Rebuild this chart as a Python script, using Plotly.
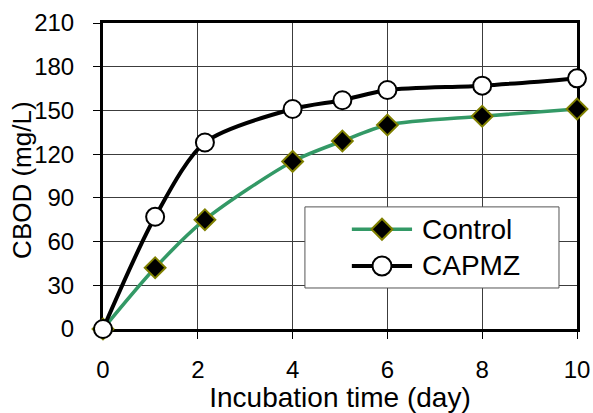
import plotly.graph_objects as go

# Sampling days and CBOD readings (mg/L)
days = [0, 1.1, 2.15, 4, 5.05, 6, 8, 10]
control = [0, 42, 75, 115, 129, 140, 146, 151]
capmz = [0, 77, 128, 151, 157, 164, 167, 172]

x_ticks = [0, 2, 4, 6, 8, 10]
y_ticks = [0, 30, 60, 90, 120, 150, 180, 210]

GREEN = "#339966"
OLIVE = "#808000"
FONT = "Liberation Sans, Arial, sans-serif"

fig = go.Figure()

fig.add_trace(go.Scatter(
    x=days, y=control, name="Control", mode="lines+markers",
    line=dict(color=GREEN, width=3.5, shape="spline", smoothing=0.8),
    marker=dict(symbol="diamond", size=16, color="black",
                line=dict(color=OLIVE, width=2)),
    cliponaxis=False, showlegend=False,
))
fig.add_trace(go.Scatter(
    x=days, y=capmz, name="CAPMZ", mode="lines+markers",
    line=dict(color="black", width=4, shape="spline", smoothing=0.8),
    marker=dict(symbol="circle", size=18, color="white",
                line=dict(color="black", width=2)),
    cliponaxis=False, showlegend=False,
))

axis_common = dict(
    showline=True, linecolor="black", linewidth=3, mirror=True,
    showgrid=True, gridcolor="#3c3c3c", gridwidth=1.2,
    ticks="outside", ticklen=7, tickwidth=1, tickcolor="black",
    tickfont=dict(family=FONT, size=24, color="black"),
    zeroline=False, layer="below traces", automargin=False,
)

fig.update_xaxes(
    range=[0, 10], tickvals=x_ticks, ticktext=[str(v) for v in x_ticks],
    ticklabelstandoff=10,
    title=dict(text="Incubation time (day)", standoff=0,
               font=dict(family=FONT, size=28, color="black")),
    **axis_common,
)
fig.update_yaxes(
    range=[0, 210], tickvals=y_ticks, ticktext=[str(v) for v in y_ticks],
    ticklabelstandoff=14,
    **axis_common,
)

# Legend panel drawn inside the plot area
box = dict(x0=0.426, x1=0.962, y0=0.134, y1=0.399)
rows = [
    dict(y=0.326, label="Control", color=GREEN, lw=3.5),
    dict(y=0.206, label="CAPMZ", color="black", lw=4),
]
seg_x0, seg_x1, sym_x, text_x = 0.525, 0.652, 0.5886, 0.669

shapes = [dict(type="rect", xref="paper", yref="paper", layer="above",
               fillcolor="white", line=dict(color="#555555", width=1), **box)]
annotations = [
    # y-axis title
    dict(xref="paper", yref="paper", x=0, y=0.484, xshift=-81,
         text="CBOD (mg/L)", textangle=-90, showarrow=False,
         xanchor="center", yanchor="middle",
         font=dict(family=FONT, size=26, color="black")),
]
for r in rows:
    shapes.append(dict(type="line", xref="paper", yref="paper", layer="above",
                       x0=seg_x0, x1=seg_x1, y0=r["y"], y1=r["y"],
                       line=dict(color=r["color"], width=r["lw"])))
    annotations.append(dict(xref="paper", yref="paper", x=text_x, y=r["y"],
                            text=r["label"], showarrow=False,
                            xanchor="left", yanchor="middle",
                            font=dict(family=FONT, size=28, color="black")))
# legend symbols
shapes.append(dict(type="path", xref="paper", yref="paper", layer="above",
                   xsizemode="pixel", ysizemode="pixel",
                   xanchor=sym_x, yanchor=rows[0]["y"],
                   path="M0,-10.5 L10.5,0 L0,10.5 L-10.5,0 Z",
                   fillcolor="black", line=dict(color=OLIVE, width=2)))
shapes.append(dict(type="circle", xref="paper", yref="paper", layer="above",
                   xsizemode="pixel", ysizemode="pixel",
                   xanchor=sym_x, yanchor=rows[1]["y"],
                   x0=-9.5, x1=9.5, y0=-9.5, y1=9.5,
                   fillcolor="white", line=dict(color="black", width=2)))

fig.update_layout(
    width=593, height=413,
    margin=dict(l=103, r=16, t=23, b=84),
    paper_bgcolor="white", plot_bgcolor="white",
    font=dict(family=FONT, color="black"),
    shapes=shapes, annotations=annotations,
    showlegend=False,
)

fig.write_html("out.html")
